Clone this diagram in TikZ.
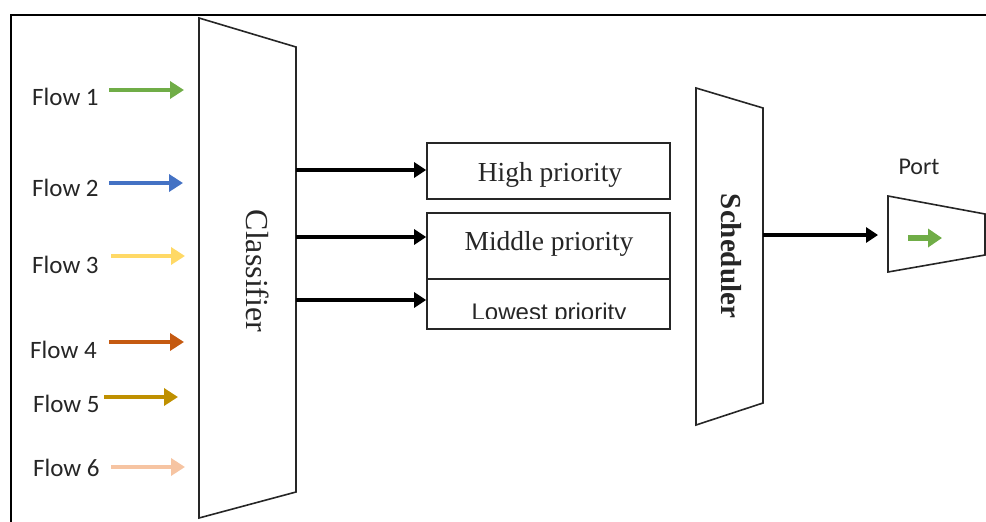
\documentclass[tikz,border=0pt]{standalone}
\usepackage{fontspec}
\setmainfont{Liberation Serif}
\newfontfamily\calibfont{Carlito}
\newfontfamily\arialfont{Liberation Sans}
\usetikzlibrary{arrows.meta}
\definecolor{flowA}{HTML}{70AD47}
\definecolor{flowB}{HTML}{4472C4}
\definecolor{flowC}{HTML}{FFD966}
\definecolor{flowD}{HTML}{C55A11}
\definecolor{flowE}{HTML}{BF9000}
\definecolor{flowF}{HTML}{F6C4A2}
\definecolor{ink}{HTML}{262626}
\begin{document}
\begin{tikzpicture}[x=1pt,y=-1pt,
  flowlabel/.style={font=\calibfont\fontsize{25}{30}\selectfont, text=ink, inner sep=0pt, anchor=west},
  flowarrow/.style={line width=4.5pt, -{Triangle[length=14pt,width=17pt]}},
  feed/.style={line width=3.6pt, draw=black, -{Triangle[length=12pt,width=15pt]}},
  outline/.style={draw=ink, line width=1.6pt, line join=miter},
  queue/.style={draw=ink, line width=1.6pt, minimum width=243pt, inner sep=0pt, rectangle},
  serifbig/.style={font=\fontsize{27.5}{32}\selectfont, text=ink, inner sep=0pt},
]
\useasboundingbox (0,0) rectangle (986,522);

% frame
\draw[line width=2.4pt, black] (11,523) -- (11,15) -- (987,15);

% classifier
\coordinate (clsTL) at (199,18);
\coordinate (clsTR) at (296,47);
\coordinate (clsBR) at (296,492);
\coordinate (clsBL) at (199,518);
\draw[outline] (clsTL) -- (clsTR) -- (clsBR) -- (clsBL) -- cycle;
\node[font=\fontsize{32}{36}\selectfont, text=ink, rotate=-90, inner sep=0pt] (cls) at (258,271) {Classifier};

% flow inputs
\node[flowlabel] (f1) at (32,97) {Flow 1};
\node[flowlabel] (f2) at (32,188) {Flow 2};
\node[flowlabel] (f3) at (32,265) {Flow 3};
\node[flowlabel] (f4) at (30,350) {Flow 4};
\node[flowlabel] (f5) at (33,404) {Flow 5};
\node[flowlabel] (f6) at (33,468) {Flow 6};

\coordinate (a1) at (109,90);  \coordinate (b1) at (184,90);
\coordinate (a2) at (109,183); \coordinate (b2) at (183,183);
\coordinate (a3) at (111,256); \coordinate (b3) at (185,256);
\coordinate (a4) at (109,342); \coordinate (b4) at (184,342);
\coordinate (a5) at (104,397); \coordinate (b5) at (178,397);
\coordinate (a6) at (111,467); \coordinate (b6) at (185,467);
\draw[flowarrow, flowA] (a1) -- (b1);
\draw[flowarrow, flowB] (a2) -- (b2);
\draw[flowarrow, flowC] (a3) -- (b3);
\draw[flowarrow, flowD] (a4) -- (b4);
\draw[flowarrow, flowE] (a5) -- (b5);
\draw[flowarrow, flowF] (a6) -- (b6);

% priority queues
\node[queue, minimum height=56pt] (hi) at (548.5,171) {};
\node[queue, minimum height=66pt] (mid) at (548.5,246) {};
\node[queue, minimum height=50pt] (low) at (548.5,304) {};
\node[serifbig] (hitxt) at (550,175) {High priority};
\node[serifbig] (midtxt) at (549,244) {Middle priority};
\begin{scope}
  \clip (428,281) rectangle (669,318);
  \node[font=\arialfont\fontsize{24}{28}\selectfont, text=ink, inner sep=0pt, anchor=base] (lowtxt) at (549,320) {Lowest priority};
\end{scope}

\coordinate (o1) at (296,170);
\coordinate (o2) at (296,237);
\coordinate (o3) at (296,300);
\draw[feed] (o1) -- (o1 -| hi.west);
\draw[feed] (o2) -- (o2 -| mid.west);
\draw[feed] (o3) -- (o3 -| low.west);

% scheduler
\coordinate (schTL) at (696,88);
\coordinate (schTR) at (763,108);
\coordinate (schBR) at (763,403);
\coordinate (schBL) at (696,425);
\draw[outline] (schTL) -- (schTR) -- (schBR) -- (schBL) -- cycle;
\node[font=\bfseries\fontsize{29}{33}\selectfont, text=ink, rotate=-90, inner sep=0pt] (sch) at (731,256) {Scheduler};

% output port
\coordinate (pTL) at (888,196);
\coordinate (pTR) at (985,214);
\coordinate (pBR) at (985,255);
\coordinate (pBL) at (888,272);
\draw[outline] (pTL) -- (pTR) -- (pBR) -- (pBL) -- cycle;
\node[font=\calibfont\fontsize{24}{28}\selectfont, text=ink, inner sep=0pt] (port) at (919,167) {Port};
\coordinate (s1) at (763,235);
\coordinate (pin) at (888,235);
\draw[feed, shorten >=10pt] (s1) -- (pin);
\coordinate (g1) at (908,238);
\coordinate (g2) at (942,238);
\draw[line width=6.5pt, flowA, -{Triangle[length=14pt,width=18pt]}] (g1) -- (g2);
\end{tikzpicture}
\end{document}
